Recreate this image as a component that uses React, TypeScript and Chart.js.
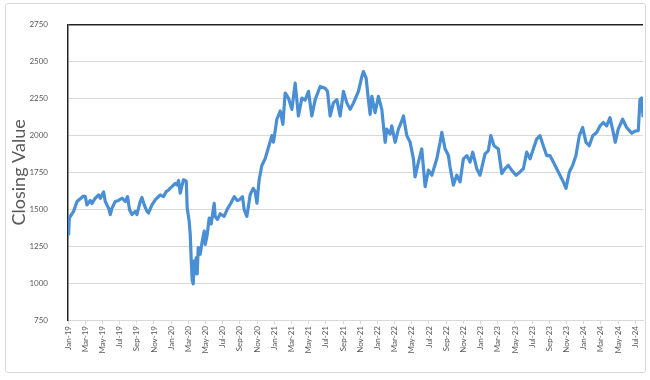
import React, { useEffect, useRef } from "react";
import { Chart, registerables } from "chart.js";

Chart.register(...registerables);

// x = months since 1 Jan 2019
const months: number[] = [
  0.07, 0.15, 0.65, 1.05, 1.81, 2.01, 2.21, 2.59, 2.79, 3.17, 3.56, 3.76, 4.14, 4.34, 4.72, 4.92,
  5.12, 5.5, 5.88, 6.28, 6.66, 6.93, 7.16, 7.44, 7.83, 8.02, 8.41, 8.6, 8.87, 9.19, 9.37, 9.77,
  10.15, 10.73, 11.12, 11.43, 11.7, 12.09, 12.48, 12.67, 12.86, 13.06, 13.26, 13.44, 13.76, 13.87,
  14.1, 14.22, 14.34, 14.45, 14.57, 14.69, 14.8, 14.92, 15.03, 15.15, 15.38, 15.62, 15.85, 15.97,
  16.2, 16.43, 16.66, 17.01, 17.13, 17.4, 17.71, 18.17, 18.52, 18.95, 19.34, 19.69, 19.92, 20.3,
  20.5, 20.81, 21.2, 21.55, 21.78, 21.98, 22.24, 22.56, 22.94, 23.33, 23.72, 23.91, 24.3, 24.69,
  25.0, 25.27, 25.65, 26.05, 26.43, 26.81, 27.21, 27.59, 27.98, 28.37, 28.76, 29.34, 29.92, 30.19,
  30.5, 30.88, 31.28, 31.66, 32.05, 32.44, 32.83, 33.22, 33.79, 34.19, 34.37, 34.69, 34.95, 35.15,
  35.35, 35.73, 36.12, 36.51, 36.9, 37.09, 37.48, 37.67, 38.06, 38.44, 38.84, 39.03, 39.42, 39.8,
  40.19, 40.38, 40.77, 41.16, 41.55, 41.93, 42.33, 42.91, 43.29, 43.49, 43.87, 44.26, 44.45, 44.84,
  45.23, 45.62, 46.0, 46.4, 46.78, 47.09, 47.56, 47.94, 48.52, 48.91, 49.19, 49.57, 50.07, 50.47,
  50.85, 51.23, 51.63, 52.13, 52.59, 52.98, 53.37, 53.76, 54.14, 54.53, 54.92, 55.3, 55.69, 56.07,
  56.47, 56.86, 57.24, 57.63, 57.94, 58.33, 58.72, 59.1, 59.49, 59.88, 60.27, 60.65, 61.05, 61.51,
  61.9, 62.28, 62.67, 63.06, 63.44, 63.67, 64.02, 64.53, 65.0, 65.58, 65.96, 66.35, 66.55, 66.74,
  66.9,
];

const closingValues: number[] = [
  1332, 1441, 1486, 1553, 1590, 1586, 1530, 1560, 1540, 1575, 1597, 1575, 1617, 1553, 1508, 1464,
  1508, 1553, 1560, 1575, 1553, 1586, 1497, 1464, 1486, 1464, 1553, 1580, 1530, 1486, 1475, 1530,
  1564, 1597, 1586, 1620, 1631, 1653, 1676, 1665, 1695, 1609, 1660, 1700, 1690, 1508,
  1419, 1332, 1151, 1018, 995, 1151, 1062, 1173, 1062, 1240, 1195, 1285, 1352, 1262,
  1330, 1441, 1400, 1541, 1450, 1432, 1470, 1452, 1500, 1541, 1586, 1560, 1563, 1586,
  1497, 1452, 1600, 1642, 1620, 1541, 1700, 1798, 1842, 1920, 1999, 1955, 2110, 2166,
  2076, 2288, 2254, 2177, 2355, 2132, 2254, 2240, 2299, 2132, 2243, 2332, 2320, 2300,
  2132, 2221, 2243, 2132, 2299, 2221, 2177, 2221, 2299, 2400, 2433, 2388, 2243, 2143,
  2265, 2155, 2265, 2177, 1954, 2043, 2010, 2065, 1954, 2043, 2099, 2132, 1999, 1955,
  1842, 1720, 1820, 1909, 1653, 1765, 1731, 1842, 1954, 2021, 1910, 1864, 1787, 1664,
  1731, 1686, 1842, 1864, 1820, 1887, 1775, 1731, 1876, 1898, 1999, 1931, 1909, 1742,
  1775, 1798, 1764, 1731, 1753, 1775, 1887, 1842, 1909, 1976, 1999, 1931, 1864, 1864,
  1820, 1775, 1731, 1686, 1642, 1753, 1798, 1864, 1999, 2054, 1954, 1931, 1999, 2021,
  2065, 2088, 2065, 2121, 2021, 1954, 2043, 2110, 2054, 2016, 2030, 2032, 2244, 2254,
  2132,
];

const xTickLabels: string[] = [
  "Jan-19", "Mar-19", "May-19", "Jul-19", "Sep-19", "Nov-19",
  "Jan-20", "Mar-20", "May-20", "Jul-20", "Sep-20", "Nov-20",
  "Jan-21", "Mar-21", "May-21", "Jul-21", "Sep-21", "Nov-21",
  "Jan-22", "Mar-22", "May-22", "Jul-22", "Sep-22", "Nov-22",
  "Jan-23", "Mar-23", "May-23", "Jul-23", "Sep-23", "Nov-23",
  "Jan-24", "Mar-24", "May-24", "Jul-24",
];

const yTicks: number[] = [750, 1000, 1250, 1500, 1750, 2000, 2250, 2500, 2750];

const FONT = "Lato, 'Open Sans', sans-serif";
const GREY_TEXT = "#595959";

export default function App() {
  const ref = useRef<HTMLCanvasElement | null>(null);

  useEffect(() => {
    document.body.style.margin = "0";
    const canvas = ref.current;
    if (!canvas) return;
    const chart = new Chart(canvas, {
      type: "line",
      data: {
        datasets: [
          {
            label: "Closing Value",
            data: months.map((m, i) => ({ x: m, y: closingValues[i] })),
            borderColor: "#4a8fd4",
            borderWidth: 3.2,
            borderJoinStyle: "round",
            borderCapStyle: "round",
            pointRadius: 0,
            tension: 0,
            fill: false,
          },
        ],
      },
      options: {
        animation: false,
        responsive: false,
        devicePixelRatio: 1,
        layout: { padding: { left: 0, right: 7, top: 21, bottom: 0 } },
        plugins: { legend: { display: false }, tooltip: { enabled: false } },
        scales: {
          x: {
            type: "linear",
            min: 0,
            max: 66.9,
            afterFit: (s: any) => {
              s.height = 60;
            },
            afterBuildTicks: (s: any) => {
              s.ticks = xTickLabels.map((_, i) => ({ value: i * 2 }));
            },
            ticks: {
              includeBounds: false,
              autoSkip: false,
              maxRotation: 90,
              minRotation: 90,
              padding: 2,
              color: GREY_TEXT,
              font: { family: FONT, size: 8 },
              callback: (v: any) => xTickLabels[Math.round(Number(v) / 2)] ?? "",
            },
            grid: {
              drawOnChartArea: false,
              drawTicks: true,
              tickLength: 4,
              color: "#d9d9d9",
            },
            border: { color: "#d9d9d9", width: 1 },
          },
          y: {
            min: yTicks[0],
            max: yTicks[yTicks.length - 1],
            afterFit: (s: any) => {
              s.width = 68;
            },
            afterBuildTicks: (s: any) => {
              s.ticks = yTicks.map((v) => ({ value: v }));
            },
            ticks: {
              padding: 20,
              color: GREY_TEXT,
              font: { family: FONT, size: 8 },
              callback: (v: any) => String(v),
            },
            grid: {
              drawTicks: false,
              color: (ctx: any) =>
                ctx.tick && ctx.tick.value === yTicks[yTicks.length - 1] ? "#222222" : "#d9d9d9",
              lineWidth: (ctx: any) =>
                ctx.tick && ctx.tick.value === yTicks[yTicks.length - 1] ? 1.5 : 1,
            },
            border: { color: "#222222", width: 1.5 },
            title: {
              display: true,
              text: "Closing Value",
              color: GREY_TEXT,
              font: { family: FONT, size: 18 },
              padding: { top: 8, bottom: 0 },
            },
          },
        },
      },
    } as any);
    return () => chart.destroy();
  }, []);

  return (
    <div
      style={{
        position: "fixed",
        left: 0,
        top: 0,
        width: 650,
        height: 380,
        background: "#ffffff",
      }}
    >
      <div
        style={{
          position: "absolute",
          left: 5,
          top: 3,
          width: 641,
          height: 370,
          boxSizing: "border-box",
          border: "1px solid #d9d9d9",
          borderRadius: 3,
        }}
      />
      <canvas
        ref={ref}
        width={650}
        height={380}
        style={{ position: "absolute", left: 0, top: 0, width: 650, height: 380 }}
      />
    </div>
  );
}
